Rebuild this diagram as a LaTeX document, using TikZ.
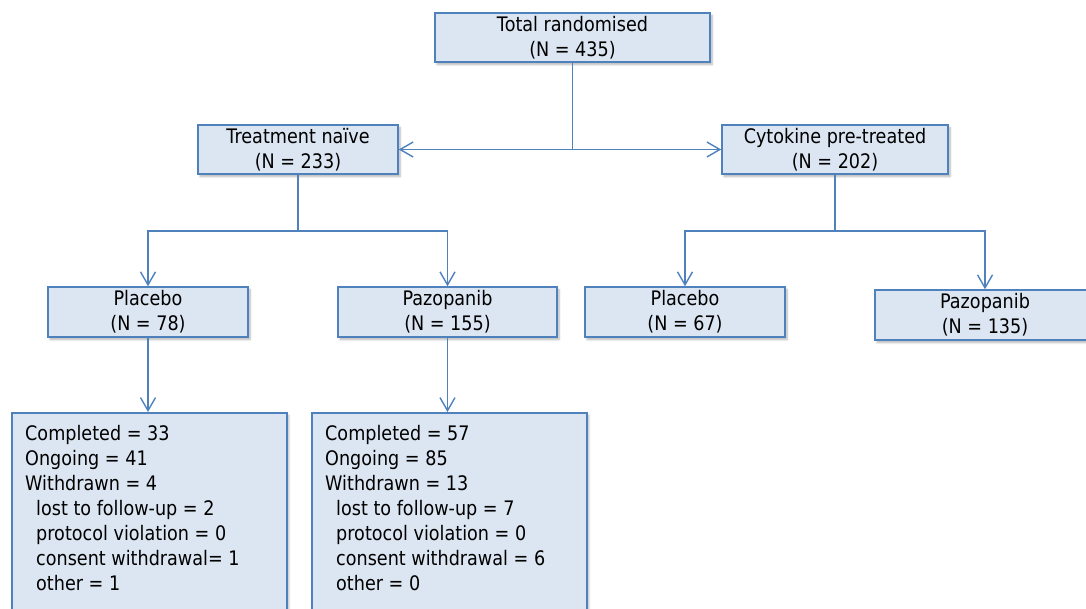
\documentclass[tikz,border=0pt]{standalone}
\usepackage{fontspec}
\setmainfont{DejaVu Sans}[FakeStretch=0.88]
\usetikzlibrary{arrows.meta,shadows.blur,calc}

\definecolor{boxblue}{HTML}{4F81BD}
\definecolor{boxfill}{HTML}{DCE6F2}

\tikzset{
  x=1pt, y=-1pt,
  box/.style={draw=boxblue, fill=boxfill, line width=1.5pt, inner sep=0pt,
    align=center, font=\fontsize{20}{25}\selectfont,
    blur shadow={shadow xshift=2pt, shadow yshift=-2.5pt, shadow blur radius=2pt,
      shadow blur steps=6, shadow opacity=30}},
  listtext/.style={inner sep=0pt, align=left, anchor=north west,
    font=\fontsize{20}{25}\selectfont},
  conn/.style={draw=boxblue, line width=1.5pt},
  arr/.style={conn, -{Straight Barb[length=13pt,width=15pt,line width=1.4pt]}},
}
\newcommand{\ind}{\hspace*{11pt}}

\begin{document}
\begin{tikzpicture}
\useasboundingbox (0,0) rectangle (1086,609);

% randomisation and strata
\node[box, minimum width=275pt, minimum height=49pt] (total) at (572.5,37.5)
  {Total randomised\\(N = 435)};
\node[box, minimum width=200pt, minimum height=49pt] (naive) at (298,149.5)
  {Treatment naïve\\(N = 233)};
\node[box, minimum width=226pt, minimum height=49pt] (cyto) at (835,149.5)
  {Cytokine pre-treated\\(N = 202)};

% treatment arms
\node[box, minimum width=200pt, minimum height=50pt] (plA) at (148,312)
  {Placebo\\(N = 78)};
\node[box, minimum width=219pt, minimum height=50pt] (pzA) at (447.5,312)
  {Pazopanib\\(N = 155)};
\node[box, minimum width=200pt, minimum height=50pt] (plB) at (685,312)
  {Placebo\\(N = 67)};
\node[box, minimum width=220pt, minimum height=50pt] (pzB) at (985,315)
  {Pazopanib\\(N = 135)};

% outcome boxes (they run past the lower edge)
\node[box, anchor=north west, minimum width=275pt, minimum height=240pt] (resA) at (11,412) {};
\node[box, anchor=north west, minimum width=275pt, minimum height=240pt] (resB) at (311,412) {};

\node[listtext] (resAtxt) at ($(resA.north west)+(14,13)$)
  {Completed = 33\\Ongoing = 41\\Withdrawn = 4\\
   \ind lost to follow-up = 2\\\ind protocol violation = 0\\
   \ind consent withdrawal= 1\\\ind other = 1};
\node[listtext] (resBtxt) at ($(resB.north west)+(14,13)$)
  {Completed = 57\\Ongoing = 85\\Withdrawn = 13\\
   \ind lost to follow-up = 7\\\ind protocol violation = 0\\
   \ind consent withdrawal = 6\\\ind other = 0};

% branch points
\coordinate (tj) at (total.south |- naive.east);
\coordinate (nj) at (298,231);
\coordinate (cj) at (835,231);

% connectors
\draw[conn] (total.south) -- (tj);
\draw[arr] (tj) -- (naive.east);
\draw[arr] (tj) -- (cyto.west);

\draw[conn] (naive.south) -- (nj);
\draw[arr] (nj) -| (plA.north);
\draw[arr] (nj) -| (pzA.north);

\draw[conn] (cyto.south) -- (cj);
\draw[arr] (cj) -| (plB.north);
\draw[arr] (cj) -| (pzB.north);

\draw[arr] (plA.south) -- (resA.north -| plA.south);
\draw[arr] (pzA.south) -- (resB.north -| pzA.south);
\end{tikzpicture}
\end{document}
